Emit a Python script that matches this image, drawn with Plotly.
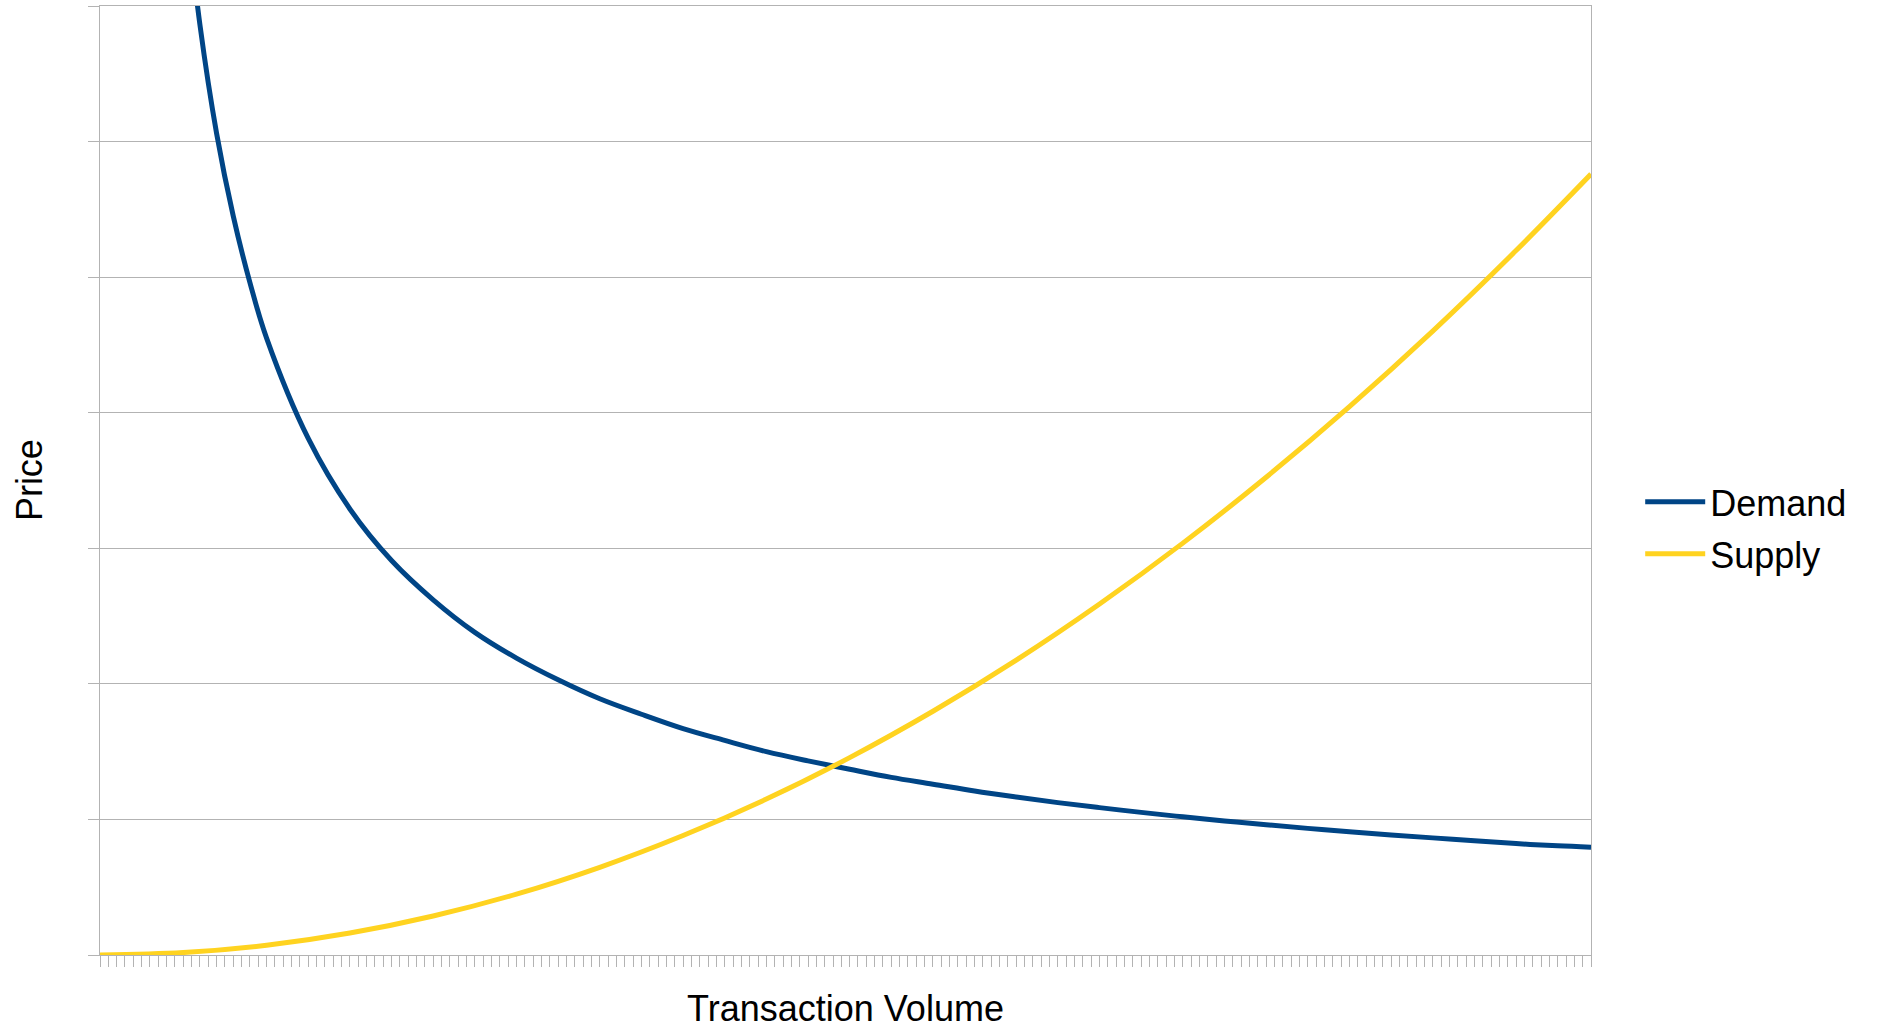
import plotly.graph_objects as go

# Category positions (transaction volume index) and read-off prices
supply_x = [0, 10, 20, 30, 40, 50, 60, 70, 80, 90, 100, 110, 120, 130, 140, 150, 160, 170, 179]
supply_y = [0.0, 0.018, 0.072, 0.162, 0.288, 0.449, 0.647, 0.881, 1.150, 1.456, 1.798,
            2.175, 2.589, 3.038, 3.524, 4.045, 4.602, 5.196, 5.76]

demand_x = [10, 12, 14, 16, 18, 20, 25, 30, 35, 40, 45, 50, 55, 60, 65, 70, 75, 80, 85, 90,
            95, 100, 105, 110, 115, 120, 125, 130, 135, 140, 145, 150, 155, 160, 165, 170,
            175, 179]
demand_y = [7.93, 6.86, 6.06, 5.45, 4.96, 4.55, 3.81, 3.29, 2.91, 2.62, 2.38, 2.19, 2.03,
            1.89, 1.776, 1.67, 1.583, 1.50, 1.432, 1.37, 1.310, 1.26, 1.209, 1.165, 1.124,
            1.087, 1.052, 1.019, 0.989, 0.961, 0.934, 0.909, 0.885, 0.864, 0.842, 0.822,
            0.805, 0.795]

n_categories = 180

FONT = "Liberation Sans, Arial, sans-serif"
GRID = "#b3b3b3"

fig = go.Figure()
fig.add_trace(go.Scatter(x=demand_x, y=demand_y, name="Demand", mode="lines",
                         line=dict(color="#004586", width=5, shape="spline", smoothing=1),
                         legendgroup="d"))
fig.add_trace(go.Scatter(x=supply_x, y=supply_y, name="Supply", mode="lines",
                         line=dict(color="#ffd320", width=5, shape="spline", smoothing=1),
                         legendgroup="s"))

fig.update_layout(
    width=1878, height=1029,
    margin=dict(l=100, r=287, t=6, b=74),
    paper_bgcolor="white", plot_bgcolor="white",
    font=dict(family=FONT, size=36, color="black"),
    showlegend=True,
    legend=dict(x=1.033, xanchor="left", y=0.45, yanchor="middle",
                font=dict(size=36, family=FONT, color="black"),
                bgcolor="rgba(0,0,0,0)", itemwidth=60, tracegroupgap=2),
    xaxis=dict(range=[0, n_categories - 1], tickmode="linear", tick0=0, dtick=1,
               ticks="outside", ticklen=11, tickcolor=GRID, tickwidth=1,
               showticklabels=False, showgrid=False, zeroline=False, automargin=False,
               showline=True, linecolor=GRID, linewidth=1, mirror=True,
               title=dict(text="Transaction Volume", font=dict(size=36, family=FONT),
                          standoff=36)),
    yaxis=dict(range=[0, 7], tickmode="linear", tick0=0, dtick=1,
               ticks="outside", ticklen=11, tickcolor=GRID, tickwidth=1,
               showticklabels=False, showgrid=True, gridcolor=GRID, gridwidth=1,
               zeroline=False, showline=True, linecolor=GRID, linewidth=1, mirror=True,
               automargin=False),
    annotations=[dict(text="Price", textangle=-90, xref="paper", yref="paper",
                      x=-0.0472, y=0.5, xanchor="center", yanchor="middle",
                      showarrow=False, font=dict(size=36, family=FONT, color="black"))],
)

fig.write_html("out.html")
